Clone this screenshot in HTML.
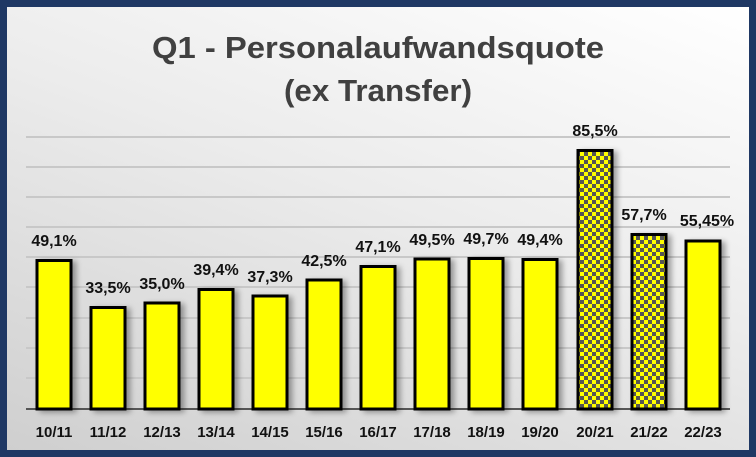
<!DOCTYPE html>
<html><head><style>
html,body{margin:0;padding:0;}
body{width:756px;height:457px;background:#1f3864;position:relative;overflow:hidden;font-family:"Liberation Sans",sans-serif;}
#p{position:absolute;left:7px;top:7px;width:742px;height:443px;background:linear-gradient(200deg,#ffffff 0%,#ececec 45%,#cfcfcf 100%);}
</style></head><body>
<div id="p"></div>
<svg width="756" height="457" style="position:absolute;left:0;top:0">
<defs>
<pattern id="ck" width="8" height="8" patternUnits="userSpaceOnUse">
<rect width="8" height="8" fill="#ffff00"/>
<rect width="4" height="4" fill="#555"/>
<rect x="4" y="4" width="4" height="4" fill="#555"/>
</pattern>
<filter id="sh" x="-30%" y="-10%" width="160%" height="120%"><feGaussianBlur in="SourceAlpha" stdDeviation="3"/><feOffset dx="4" dy="2"/><feComponentTransfer><feFuncA type="linear" slope="0.35"/></feComponentTransfer><feMerge><feMergeNode/><feMergeNode in="SourceGraphic"/></feMerge></filter>
</defs>
<g stroke="#c8c8c8" stroke-width="2">
<line x1="26" x2="730" y1="137" y2="137"/><line x1="26" x2="730" y1="167" y2="167"/><line x1="26" x2="730" y1="197" y2="197"/><line x1="26" x2="730" y1="227" y2="227"/><line x1="26" x2="730" y1="257" y2="257"/><line x1="26" x2="730" y1="287" y2="287"/><line x1="26" x2="730" y1="318" y2="318"/><line x1="26" x2="730" y1="348" y2="348"/><line x1="26" x2="730" y1="378" y2="378"/>
</g>
<line x1="26" x2="730" y1="409" y2="409" stroke="#555" stroke-width="2"/>
<text x="378" y="58" text-anchor="middle" font-size="31" font-weight="bold" fill="#404040" textLength="452" lengthAdjust="spacingAndGlyphs">Q1 - Personalaufwandsquote</text>
<text x="378" y="101" text-anchor="middle" font-size="31" font-weight="bold" fill="#404040" textLength="188" lengthAdjust="spacingAndGlyphs">(ex Transfer)</text>
<g stroke="#000" stroke-width="3" filter="url(#sh)">
<rect x="37" y="260.5" width="34" height="148.5" fill="#ffff00"/>
<rect x="91" y="307.5" width="34" height="101.5" fill="#ffff00"/>
<rect x="145" y="303" width="34" height="106" fill="#ffff00"/>
<rect x="199" y="289.5" width="34" height="119.5" fill="#ffff00"/>
<rect x="253" y="296" width="34" height="113" fill="#ffff00"/>
<rect x="307" y="280" width="34" height="129" fill="#ffff00"/>
<rect x="361" y="266.5" width="34" height="142.5" fill="#ffff00"/>
<rect x="415" y="259" width="34" height="150" fill="#ffff00"/>
<rect x="469" y="258.5" width="34" height="150.5" fill="#ffff00"/>
<rect x="523" y="259.5" width="34" height="149.5" fill="#ffff00"/>
<rect x="578" y="150.5" width="34" height="258.5" fill="url(#ck)"/>
<rect x="632" y="234.5" width="34" height="174.5" fill="url(#ck)"/>
<rect x="686" y="241" width="34" height="168" fill="#ffff00"/>
</g>
<g font-size="16" font-weight="bold" fill="#111" text-anchor="middle">
<text x="54" y="246">49,1%</text><text x="108" y="293">33,5%</text><text x="162" y="289">35,0%</text><text x="216" y="275">39,4%</text><text x="270" y="282">37,3%</text><text x="324" y="266">42,5%</text><text x="378" y="252">47,1%</text><text x="432" y="245">49,5%</text><text x="486" y="244">49,7%</text><text x="540" y="245">49,4%</text><text x="595" y="136">85,5%</text><text x="644" y="220">57,7%</text><text x="707" y="226">55,45%</text>
</g>
<g font-size="15" font-weight="bold" fill="#111" text-anchor="middle">
<text x="54" y="437">10/11</text><text x="108" y="437">11/12</text><text x="162" y="437">12/13</text><text x="216" y="437">13/14</text><text x="270" y="437">14/15</text><text x="324" y="437">15/16</text><text x="378" y="437">16/17</text><text x="432" y="437">17/18</text><text x="486" y="437">18/19</text><text x="540" y="437">19/20</text><text x="595" y="437">20/21</text><text x="649" y="437">21/22</text><text x="703" y="437">22/23</text>
</g>
</svg>
</body></html>
